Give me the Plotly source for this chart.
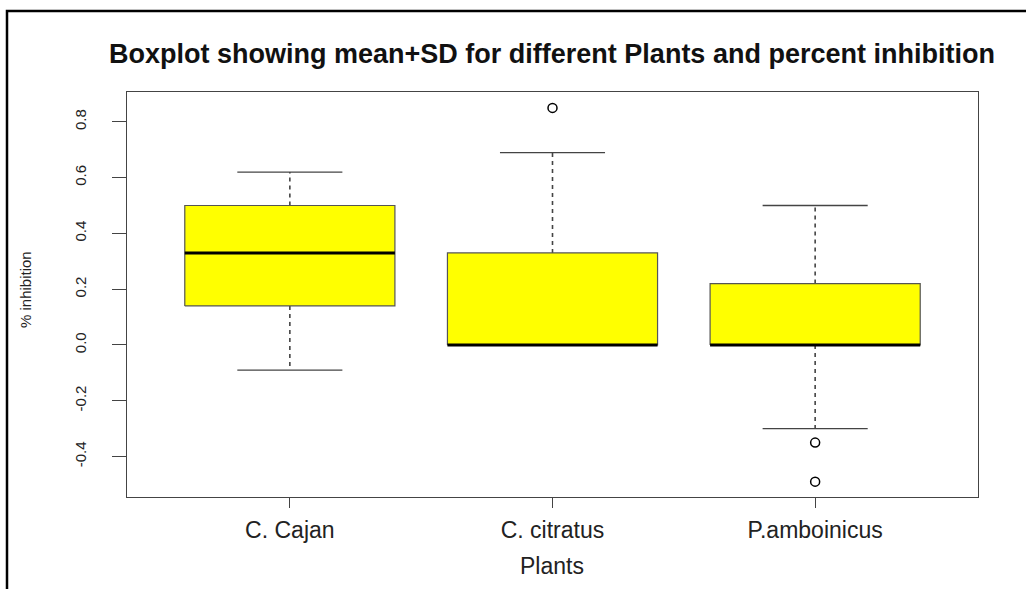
import plotly.graph_objects as go

# ---- data ----
plants = ["C. Cajan", "C. citratus", "P.amboinicus"]
lower_whisker = [-0.09, 0.00, -0.30]
q1 = [0.14, 0.00, 0.00]
median = [0.33, 0.00, 0.00]
q3 = [0.50, 0.33, 0.22]
upper_whisker = [0.62, 0.69, 0.50]
outliers = [[], [0.85], [-0.35, -0.49]]

y_ticks = [-0.4, -0.2, 0.0, 0.2, 0.4, 0.6, 0.8]

BOX_HALF = 0.4      # R boxwex 0.8
CAP_HALF = 0.2      # staplewex 0.5
EDGE = "#444444"

fig = go.Figure()

for i, name in enumerate(plants):
    x0 = i + 1
    # whiskers (dashed)
    fig.add_trace(go.Scatter(
        x=[x0, x0, None, x0, x0],
        y=[q3[i], upper_whisker[i], None, q1[i], lower_whisker[i]],
        mode="lines", line=dict(color=EDGE, width=1.6, dash="4px,4px"),
        hoverinfo="skip", showlegend=False,
    ))
    # staples
    fig.add_trace(go.Scatter(
        x=[x0 - CAP_HALF, x0 + CAP_HALF, None, x0 - CAP_HALF, x0 + CAP_HALF],
        y=[upper_whisker[i], upper_whisker[i], None, lower_whisker[i], lower_whisker[i]],
        mode="lines", line=dict(color=EDGE, width=1.3),
        hoverinfo="skip", showlegend=False,
    ))
    # box
    fig.add_trace(go.Scatter(
        x=[x0 - BOX_HALF, x0 + BOX_HALF, x0 + BOX_HALF, x0 - BOX_HALF, x0 - BOX_HALF],
        y=[q1[i], q1[i], q3[i], q3[i], q1[i]],
        mode="lines", fill="toself", fillcolor="#FFFF00",
        line=dict(color="#555555", width=1.2),
        name=name, showlegend=False,
    ))
    # median
    fig.add_trace(go.Scatter(
        x=[x0 - BOX_HALF, x0 + BOX_HALF],
        y=[median[i], median[i]],
        mode="lines", line=dict(color="black", width=3),
        hoverinfo="skip", showlegend=False,
    ))
    # outliers
    if outliers[i]:
        fig.add_trace(go.Scatter(
            x=[x0] * len(outliers[i]), y=outliers[i],
            mode="markers",
            marker=dict(symbol="circle-open", size=9, color="black", line=dict(width=1.5)),
            showlegend=False,
        ))

FONT = "Liberation Sans, Arial, sans-serif"

fig.update_layout(
    width=1026, height=589,
    paper_bgcolor="white", plot_bgcolor="white",
    margin=dict(l=127, r=48, t=92, b=92),
    font=dict(family=FONT, color="#222222"),
    title=dict(
        text="<b>Boxplot showing mean+SD for different Plants and percent inhibition</b>",
        x=0.538, xanchor="center", y=1 - 54 / 589, yanchor="middle",
        font=dict(size=27, color="#111111", family=FONT),
    ),
)
fig.update_xaxes(
    range=[0.38, 3.62], tickmode="array", tickvals=[1, 2, 3], ticktext=plants,
    showgrid=False, zeroline=False,
    showline=True, mirror=True, linecolor=EDGE, linewidth=1,
    ticks="outside", ticklen=10, tickcolor=EDGE,
    tickfont=dict(size=23), ticklabelstandoff=2,
)
fig.update_yaxes(
    range=[-0.545, 0.907], tickmode="array", tickvals=y_ticks,
    ticktext=[f"{v:.1f}" for v in y_ticks],
    showgrid=False, zeroline=False,
    showline=True, mirror=True, linecolor=EDGE, linewidth=1,
    ticks="outside", ticklen=14, tickcolor=EDGE,
    tickangle=-90, tickfont=dict(size=15), ticklabelstandoff=20,
)

# axis titles
fig.add_annotation(text="Plants", xref="paper", yref="paper",
                   x=(552 - 127) / 851, y=(497 - 566) / 405,
                   showarrow=False, font=dict(size=23), xanchor="center", yanchor="middle")
fig.add_annotation(text="% inhibition", xref="paper", yref="paper",
                   x=(25 - 127) / 851, y=(497 - 290) / 405, textangle=-90,
                   showarrow=False, font=dict(size=15), xanchor="center", yanchor="middle")

# outer frame of the original image (left and top edges)
fig.add_shape(type="path", xref="paper", yref="paper",
              path=f"M {(7 - 127) / 851} {(497 - 600) / 405} L {(7 - 127) / 851} {(497 - 11) / 405} "
                   f"L {(1030 - 127) / 851} {(497 - 11) / 405}",
              line=dict(color="black", width=2.5))

# page body has a default 8px margin; drop it so the figure sits at the window origin
fig.write_html(
    "out.html",
    config={"displayModeBar": False},
    post_script="document.body.style.margin='0';",
)
